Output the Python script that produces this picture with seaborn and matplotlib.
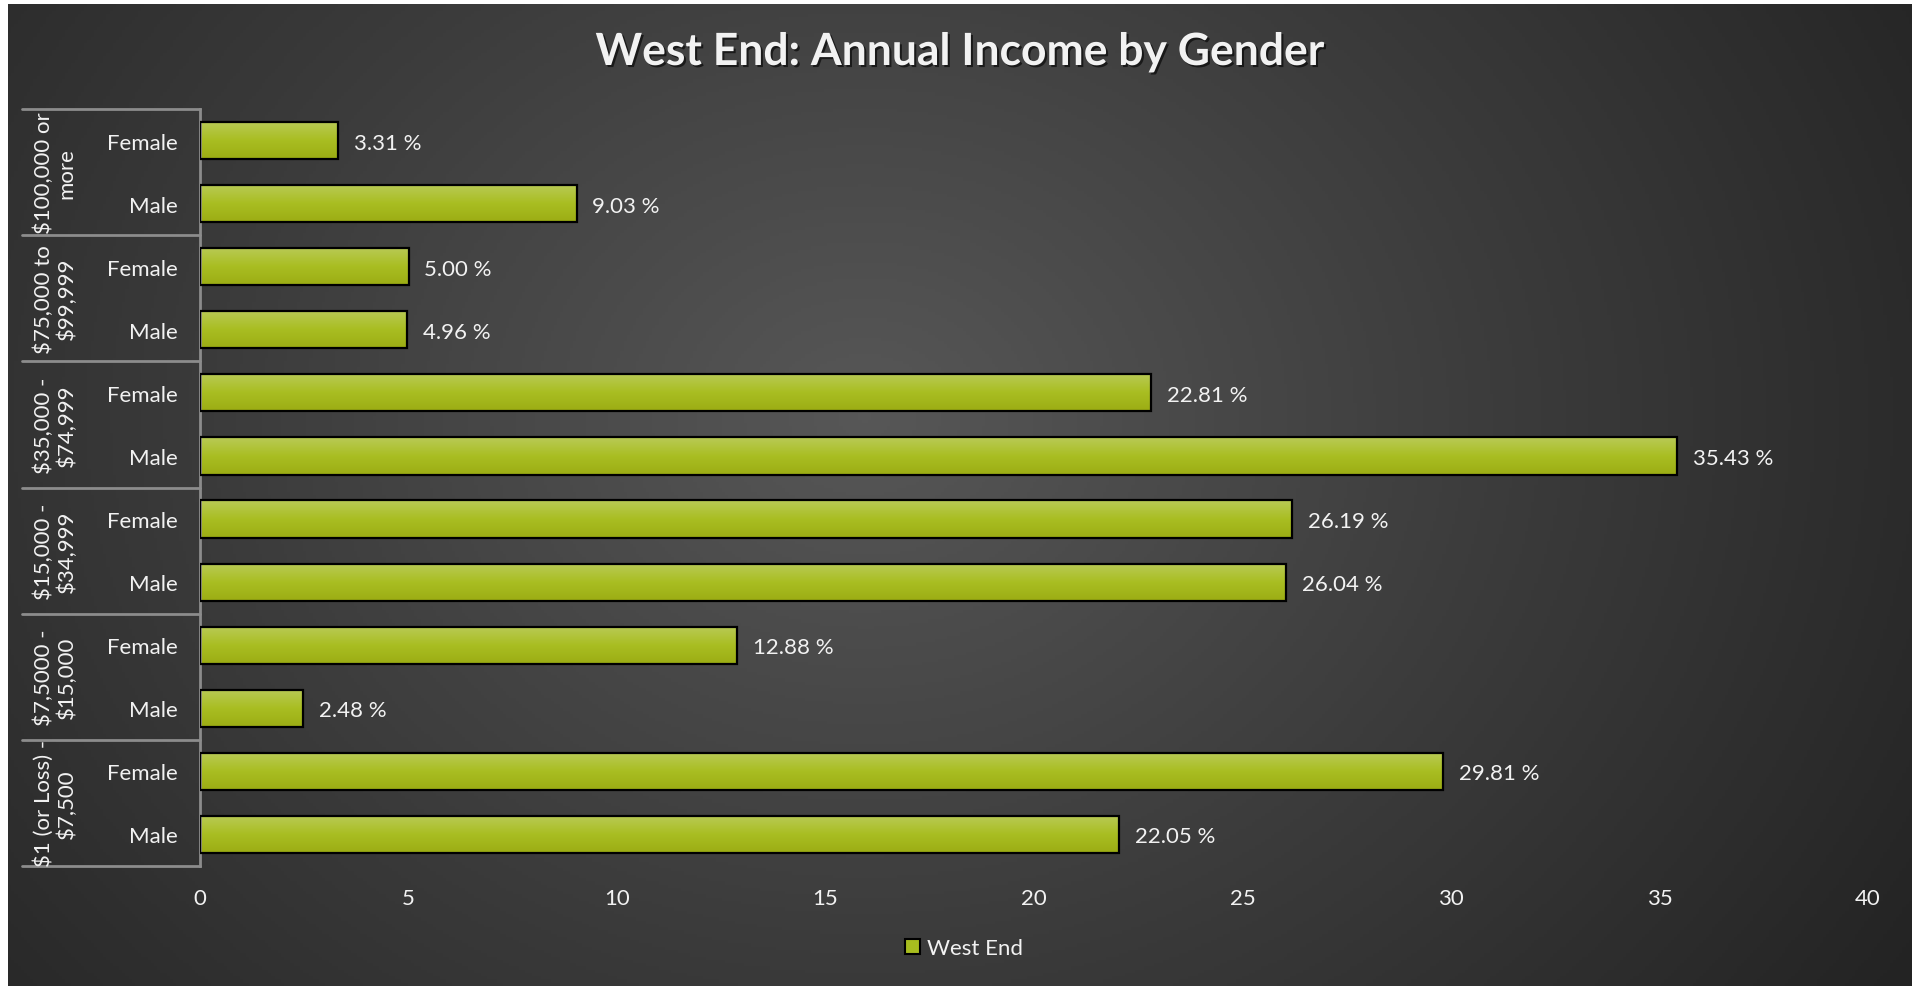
import numpy as np
import pandas as pd
import seaborn as sns
import matplotlib.pyplot as plt
import matplotlib.transforms as mtransforms
import matplotlib.patheffects as pe
from matplotlib.colors import LinearSegmentedColormap
from matplotlib.patches import Patch

# Data (top to bottom as shown in the chart)
groups = ["$100,000 or\nmore", "$75,000 to\n$99,999", "$35,000 -\n$74,999",
          "$15,000 -\n$34,999", "$7,5000 -\n$15,000", "$1 (or Loss) -\n$7,500"]
genders = ["Female", "Male"]
values = [3.31, 9.03, 5.00, 4.96, 22.81, 35.43, 26.19, 26.04, 12.88, 2.48, 29.81, 22.05]
x_ticks = [0, 5, 10, 15, 20, 25, 30, 35, 40]
series_name = "West End"

rows = []
i = 0
for g in groups:
    for s in genders:
        rows.append({"slot": f"{g}|{s}", "group": g, "gender": s, "value": values[i]})
        i += 1
df = pd.DataFrame(rows)

sns.set_theme(style="white")
plt.rcParams["font.family"] = ["Lato", "DejaVu Sans"]
txt = "#f2f2f2"
line_col = "#8c8c8c"
bar_col = "#a8bd1f"
fs = 16

W, H = 1921, 987
fig = plt.figure(figsize=(W / 100, H / 100), dpi=100)
fig.patch.set_facecolor("white")

# radial gradient background
bg = fig.add_axes([8 / W, 0, (1912 - 8) / W, (987 - 5) / H])
yy, xx = np.mgrid[0:1:300j, 0:1:600j]
r = np.sqrt(((xx - 0.45) * 1.6) ** 2 + ((yy - 0.58) * 1.0) ** 2)
r = np.clip(r / r.max(), 0, 1)
bg_cmap = LinearSegmentedColormap.from_list("bg", ["#575757", "#3c3c3c", "#232323"])
bg.imshow(r, cmap=bg_cmap, aspect="auto", origin="lower", extent=[0, 1, 0, 1])
bg.axis("off")

ax = fig.add_axes([200 / W, 1 - 867 / H, (1868 - 200) / W, (867 - 110) / H])
ax.patch.set_alpha(0)

sns.barplot(data=df, y="slot", x="value", orient="h", color=bar_col, width=0.59,
            edgecolor="black", linewidth=1.6, ax=ax, zorder=3)

# vertical gradient fill on each bar
grad = np.linspace(0, 1, 64).reshape(-1, 1)
bar_cmap = LinearSegmentedColormap.from_list("bar", ["#b9ca56", "#a9be22", "#9cad14"])
for p in list(ax.patches):
    x0, y0 = p.get_x(), p.get_y()
    w, h = p.get_width(), p.get_height()
    ax.imshow(grad, cmap=bar_cmap, aspect="auto", extent=[x0, x0 + w, y0 + h, y0],
              origin="upper", zorder=2.5)
    p.set_facecolor("none")

ax.set_xlim(0, 40)
ax.set_ylim(len(df) - 0.5, -0.5)
ax.set_xticks(x_ticks)
ax.set_xticklabels([str(t) for t in x_ticks], color=txt, fontsize=fs)
ax.set_yticks(range(len(df)))
ax.set_yticklabels(df["gender"], color=txt, fontsize=fs)
ax.tick_params(axis="x", length=0, pad=16)
ax.tick_params(axis="y", length=0, pad=16)
ax.set_xlabel("")
ax.set_ylabel("")
for side in ["top", "right", "bottom"]:
    ax.spines[side].set_visible(False)
ax.spines["left"].set_color(line_col)
ax.spines["left"].set_linewidth(2)

# value labels
for k, v in enumerate(df["value"]):
    ax.text(v + 0.38, k, f"{v:.2f} %", va="center_baseline", ha="left", color=txt, fontsize=fs)

# multi-level category axis: group separators and labels
trans = mtransforms.blended_transform_factory(ax.transAxes, ax.transData)
left_frac = (22 - 200) / (1868 - 200)
for j in range(len(groups) + 1):
    yb = j * 2 - 0.5
    ax.plot([left_frac, 0], [yb, yb], transform=trans, color=line_col, lw=2, clip_on=False)
for j, g in enumerate(groups):
    ax.text((55 - 200) / (1868 - 200), j * 2 + 0.5, g, transform=trans, rotation=90,
            ha="center", va="center", multialignment="center", color=txt,
            fontsize=fs, linespacing=1.15)

# title
fig.text(0.5, 1 - 53 / H, "West End: Annual Income by Gender", ha="center", va="center",
         color=txt, fontsize=32, fontweight="bold",
         path_effects=[pe.withSimplePatchShadow(offset=(1.5, -1.5), shadow_rgbFace="black", alpha=0.6)])

# legend
handle = Patch(facecolor=bar_col, edgecolor="black", linewidth=1.5, label=series_name)
leg = fig.legend(handles=[handle], loc="center", bbox_to_anchor=(964 / W, 1 - 949 / H),
                 frameon=False, fontsize=fs, handlelength=0.65, handleheight=0.65,
                 handletextpad=0.3)
for t in leg.get_texts():
    t.set_color(txt)

fig.savefig("out.png", dpi=100, facecolor=fig.get_facecolor())
